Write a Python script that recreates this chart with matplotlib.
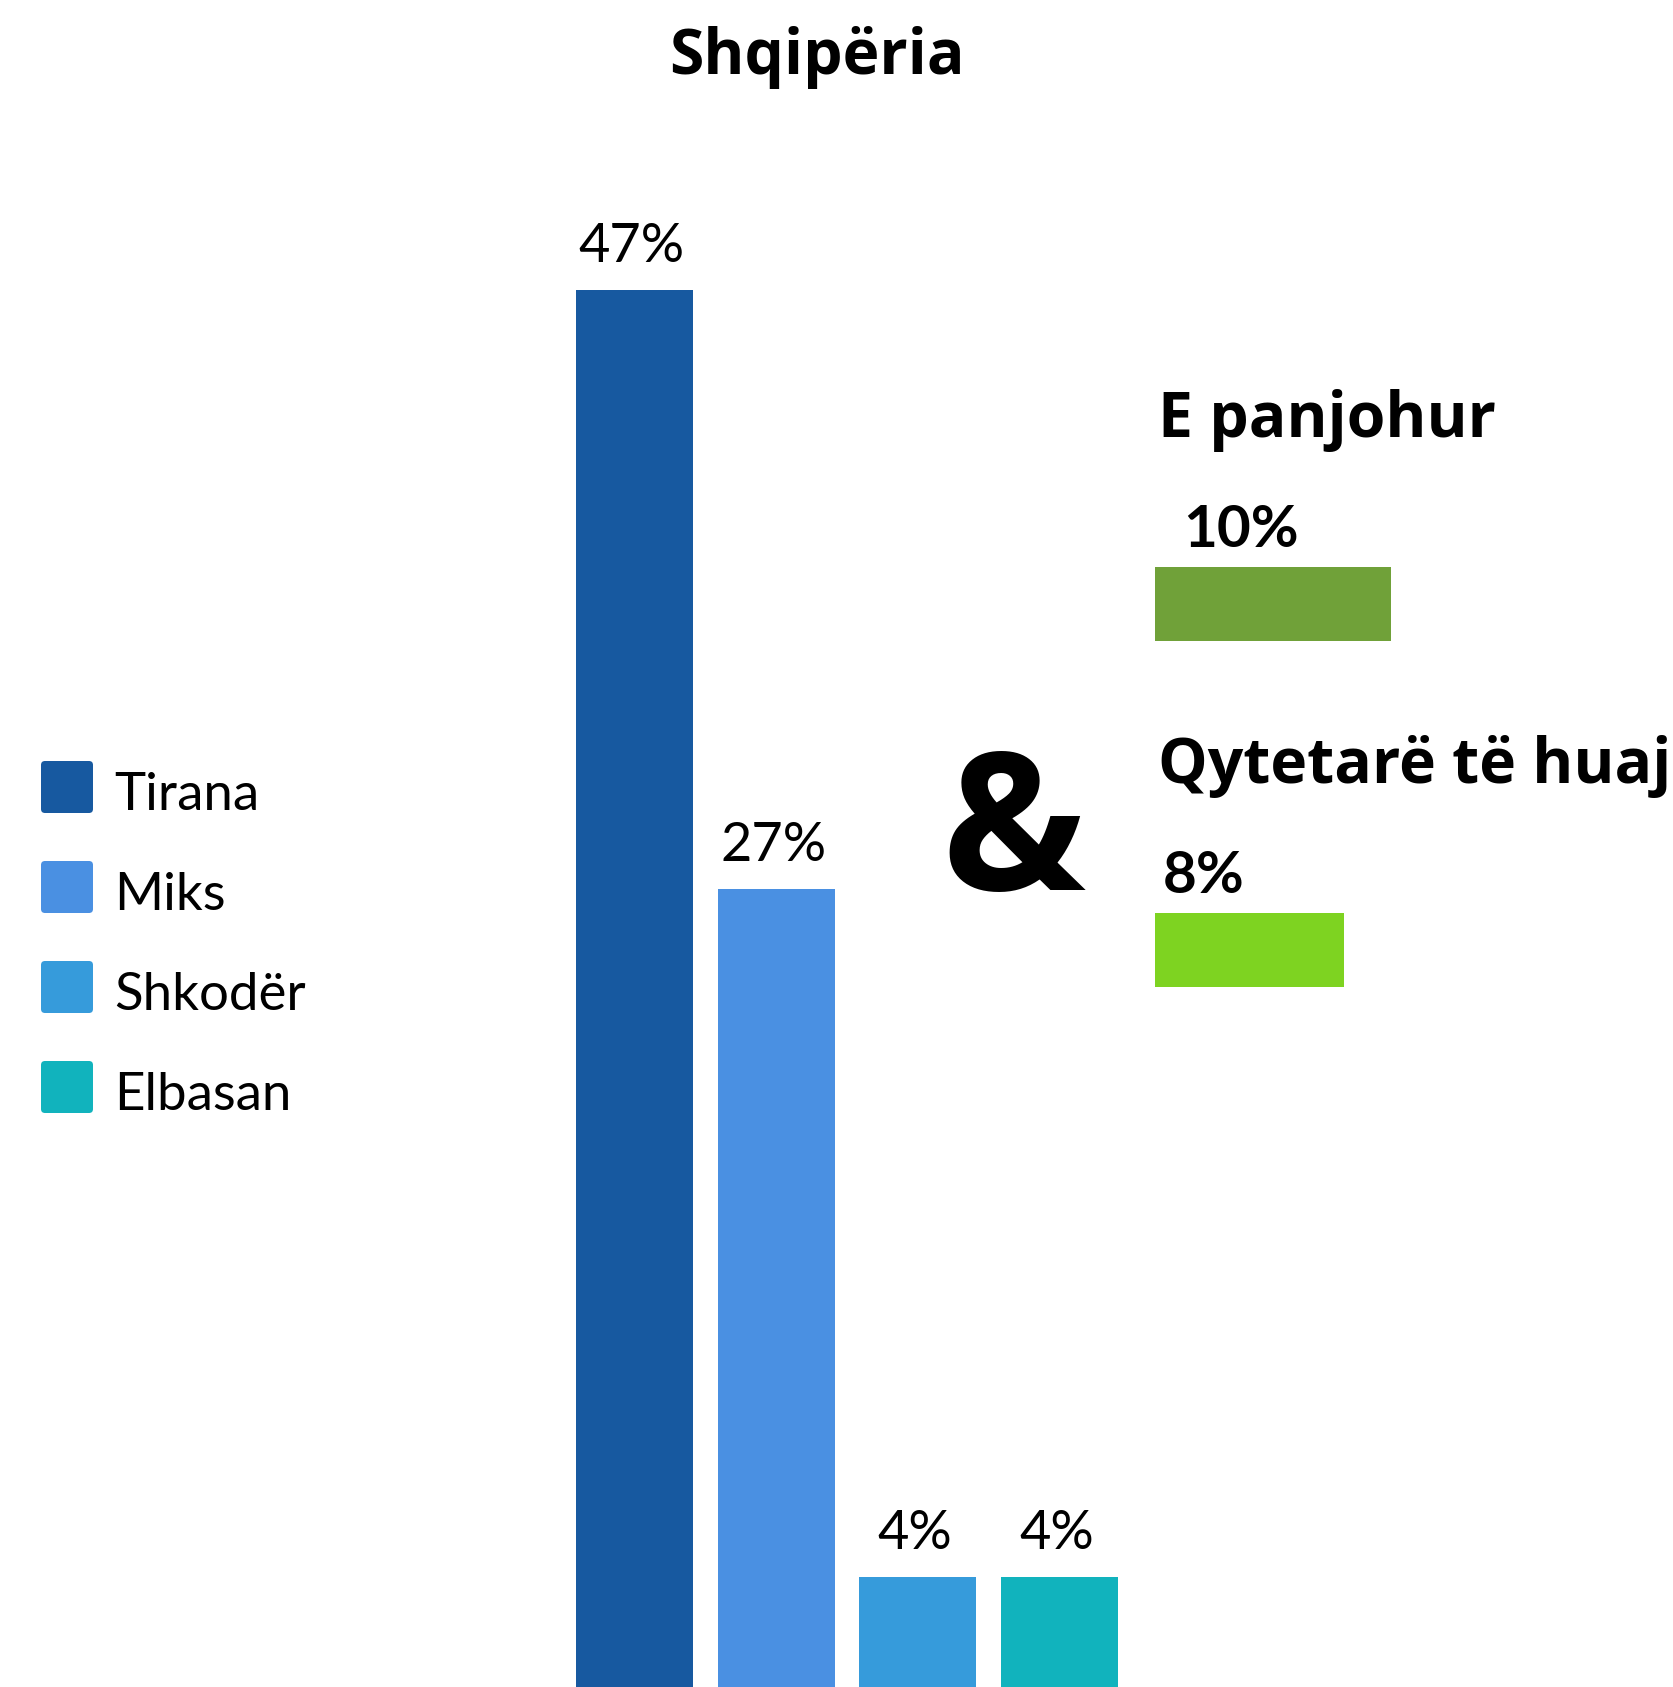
"""Shqipëria: share of cases by region, plus unknown / foreign citizens."""

import matplotlib.pyplot as plt
from matplotlib.patches import FancyBboxPatch

TITLE = "Shqipëria"
regions = ["Tirana", "Miks", "Shkodër", "Elbasan"]
region_shares = [47, 27, 4, 4]
region_colors = ["#1759a0", "#4a90e2", "#369bdb", "#11b3bd"]

other_labels = ["E panjohur", "Qytetarë të huaj"]
other_shares = [10, 8]
other_colors = ["#70a139", "#7ed321"]

W, H = 1674, 1687
LATO = ["Lato", "DejaVu Sans"]
HEAD = ["Open Sans", "DejaVu Sans"]


def px_axes(fig, left, top, width, height):
    """Axes placed in pixel units measured from the top-left corner."""
    return fig.add_axes([left / W, 1 - (top + height) / H, width / W, height / H])


def pt(px):
    return px * 72 / 100


def main():
    fig = plt.figure(figsize=(W / 100, H / 100), dpi=100)

    # overlay in pixel coordinates for title, legend and the ampersand
    over = fig.add_axes([0, 0, 1, 1])
    over.set_xlim(0, W)
    over.set_ylim(H, 0)
    over.axis("off")

    over.text(817, 74, TITLE, ha="center", va="baseline", fontsize=45,
              fontweight="bold", family=HEAD)
    over.text(1013, 890, "&", ha="center", va="baseline", fontsize=138,
              fontweight="bold", family=HEAD)

    for i, (name, color) in enumerate(zip(regions, region_colors)):
        y = 761 + 100 * i
        over.add_patch(FancyBboxPatch((45, y + 4), 44, 44,
                                      boxstyle="round,pad=4,rounding_size=4",
                                      facecolor=color, edgecolor="none"))
        over.text(114, y + 49, name, ha="left", va="baseline", fontsize=38,
                  family=LATO)

    # main vertical bars
    ax = px_axes(fig, 563.7, 200.4, 566.7, 1496.5)
    x = range(len(regions))
    ax.bar(x, region_shares, width=0.826, color=region_colors)
    for i, v in enumerate(region_shares):
        ax.annotate(f"{v}%", (i, v), xytext=(-2, pt(28)), textcoords="offset points",
                    ha="center", va="baseline", fontsize=39, family=LATO)
    ax.set_xlim(-0.5, 3.5)
    ax.set_ylim(0, 50)
    ax.axis("off")

    # small horizontal bars on the right
    bx = px_axes(fig, 1155, 552.1, 472, 449.8)
    bar_h = 0.214
    bx.barh(range(len(other_labels)), other_shares, height=bar_h, color=other_colors)
    label_dx = [28, 8]
    for i, (name, v) in enumerate(zip(other_labels, other_shares)):
        bx.annotate(name, (0, i - bar_h / 2), xytext=(pt(3), pt(130)),
                    textcoords="offset points", ha="left", va="baseline",
                    fontsize=45, fontweight="bold", family=HEAD)
        bx.annotate(f"{v}%", (0, i - bar_h / 2), xytext=(pt(label_dx[i]), pt(20)),
                    textcoords="offset points", ha="left", va="baseline",
                    fontsize=42, fontweight="bold", family=LATO)
    bx.set_xlim(0, 20)
    bx.set_ylim(1.15, -0.15)
    bx.axis("off")

    fig.savefig("out.png", dpi=100, facecolor="white")


if __name__ == "__main__":
    main()
